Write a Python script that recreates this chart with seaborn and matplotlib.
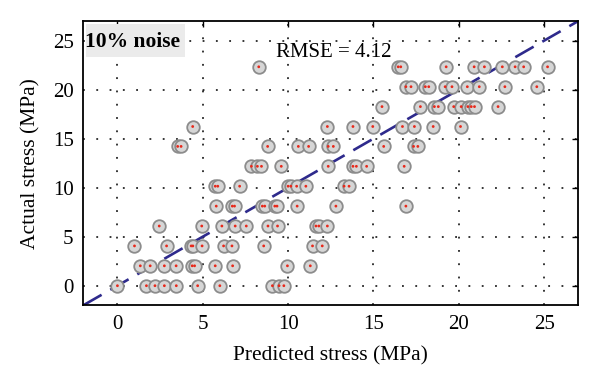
import matplotlib
matplotlib.use("Agg")
import matplotlib.pyplot as plt
import seaborn as sns
import pandas as pd
from matplotlib.patches import Rectangle

# ---- data ----
row_levels = [0.0, 2.03, 4.06, 6.09, 8.12, 10.15, 12.18, 14.21, 16.24, 18.27, 20.30, 22.33]
pred_row0 = [0.0, 1.7, 2.2, 2.75, 3.45, 4.7, 6.0, 9.08, 9.47, 9.75]
pred_row2 = [1.34, 1.92, 2.75, 3.44, 4.38, 4.52, 5.73, 6.75, 9.96, 11.3]
pred_row4 = [1.0, 2.88, 4.32, 4.42, 4.96, 6.22, 6.71, 8.57, 11.43, 12.0]
pred_row6 = [2.45, 4.94, 6.12, 6.9, 7.55, 8.82, 9.38, 11.63, 11.8, 12.3]
pred_row8 = [5.79, 6.73, 6.86, 8.49, 8.63, 9.22, 9.35, 10.53, 12.8, 16.9]
pred_row10 = [5.73, 5.88, 7.16, 10.0, 10.16, 10.5, 11.04, 13.28, 13.57]
pred_row12 = [7.85, 8.2, 8.44, 9.6, 12.35, 13.8, 14.0, 14.6, 16.8]
pred_row14 = [3.53, 3.73, 8.8, 10.6, 11.2, 12.35, 12.65, 15.6, 17.35, 17.6]
pred_row16 = [4.41, 12.3, 13.8, 14.96, 16.7, 17.4, 18.5, 20.1]
pred_row18 = [15.5, 17.75, 18.57, 18.8, 19.7, 20.14, 20.53, 20.73, 20.92, 22.3]
pred_row20 = [16.9, 17.2, 18.04, 18.24, 19.2, 19.6, 20.5, 21.2, 22.7, 24.57]
pred_row22 = [8.28, 16.45, 16.6, 19.26, 20.9, 21.5, 22.55, 23.3, 23.8, 25.2]
pred_rows = [pred_row0, pred_row2, pred_row4, pred_row6, pred_row8, pred_row10,
             pred_row12, pred_row14, pred_row16, pred_row18, pred_row20, pred_row22]
ticks = [0, 5, 10, 15, 20, 25]
rmse_text = "RMSE = 4.12"
badge_text = "10% noise"

predicted, actual = [], []
for lvl, xs in zip(row_levels, pred_rows):
    predicted.extend(xs)
    actual.extend([lvl] * len(xs))
df = pd.DataFrame({"Predicted": predicted, "Actual": actual})
ident = pd.DataFrame({"x": [-2, 27], "y": [-2, 27]})

# ---- figure ----
sns.set_theme(style="white")
plt.rcParams["font.family"] = ["Liberation Serif", "DejaVu Serif"]
fig = plt.figure(figsize=(6, 3.88), dpi=100)
ax = fig.add_axes([0.1388, 0.2131, 0.825, 0.7327])

ax.grid(True, color="black", linestyle=(0, (1.2, 7.5)), linewidth=1.1)
ax.set_axisbelow(True)

sns.lineplot(data=ident, x="x", y="y", ax=ax, color="#2e2a8c", linewidth=1.9,
             dashes=False, zorder=2)
ax.lines[-1].set_dashes((8, 3.8))

sns.scatterplot(data=df, x="Predicted", y="Actual", ax=ax, s=82,
                color="#d6d6d6", edgecolor="#8c8c8c", linewidth=1.3, zorder=3)
sns.scatterplot(data=df, x="Predicted", y="Actual", ax=ax, s=4,
                color="#e8281a", edgecolor="none", linewidth=0, zorder=4)

ax.set_xlim(-2, 27)
ax.set_ylim(-2, 27)
ax.set_xticks(ticks)
ax.set_yticks(ticks)
ax.tick_params(direction="in", length=4, width=1.0, top=True, right=True,
               labelsize=15, colors="black", pad=7)
for s in ax.spines.values():
    s.set_color("black")
    s.set_linewidth(1.3)

ax.set_xlabel("Predicted stress (MPa)", fontsize=15.5, labelpad=9, color="black")
ax.set_ylabel("Actual stress (MPa)", fontsize=15.5, labelpad=9, color="black")

ax.text(12.65, 23.3, rmse_text, fontsize=15, ha="center", va="baseline", color="black")

ax.add_patch(Rectangle((0.0048, 0.8744), 0.2007, 0.114, transform=ax.transAxes,
                       facecolor="#ebebeb", edgecolor="none", zorder=5))
ax.text(0.0994, 0.9096, badge_text, transform=ax.transAxes, fontsize=15.5,
        fontweight="bold", ha="center", va="baseline", color="black", zorder=6)

fig.savefig("out.png", dpi=100)
